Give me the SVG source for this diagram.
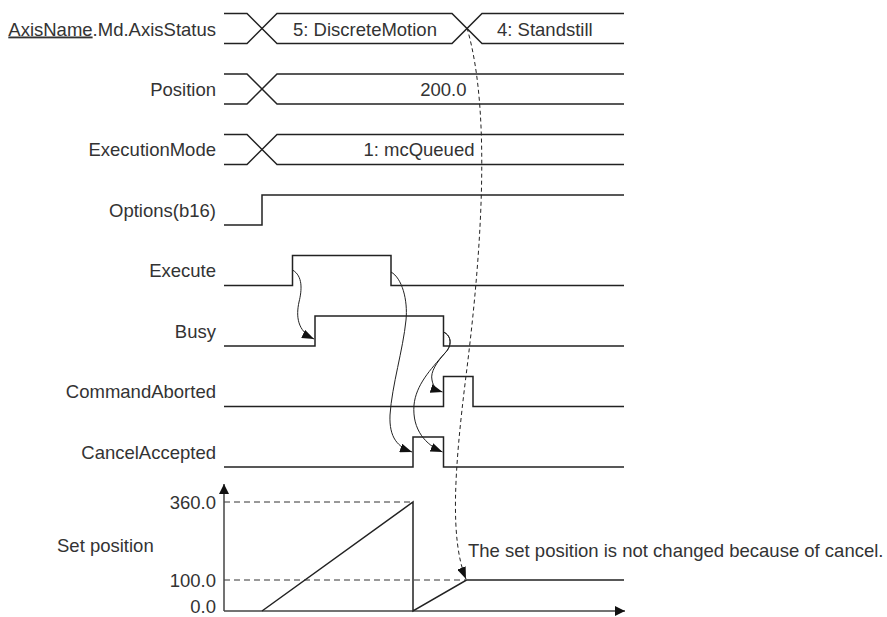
<svg xmlns="http://www.w3.org/2000/svg" width="887" height="617" viewBox="0 0 887 617">
<style>
text{font-family:"Liberation Sans",Arial,sans-serif;font-size:18.5px;fill:#333}
.lbl{text-anchor:end}
.w{fill:none;stroke:#222;stroke-width:1.5;stroke-linejoin:miter}
.c{fill:none;stroke:#222;stroke-width:1}
.d{fill:none;stroke:#222;stroke-width:1;stroke-dasharray:4 3}
.g{fill:none;stroke:#333;stroke-width:1;stroke-dasharray:6 4}
.ax{fill:none;stroke:#444;stroke-width:1.5}
</style>
<defs>
<marker id="ah" viewBox="0 0 12 9" refX="12" refY="4.5" markerWidth="12" markerHeight="9" markerUnits="userSpaceOnUse" orient="auto">
<path d="M0,0 L12,4.5 L0,9 z" fill="#111" stroke="none"/>
</marker>
<marker id="axh" viewBox="0 0 10 10" refX="10" refY="5" markerWidth="11" markerHeight="10" markerUnits="userSpaceOnUse" orient="auto">
<path d="M0,0 L10,5 L0,10 z" fill="#111" stroke="none"/>
</marker>
</defs>

<g id="axisStatus">
<text class="lbl" x="216" y="35.5"><tspan style="text-decoration:underline">AxisName</tspan>.Md.AxisStatus</text>
<path class="w" d="M224,13.5 H247 L277,43.5 H452 L482,13.5 H624"/>
<path class="w" d="M224,43.5 H247 L277,13.5 H452 L482,43.5 H624"/>
<text x="293" y="35.5">5: DiscreteMotion</text>
<text x="497" y="35.5">4: Standstill</text>
</g>

<g id="position">
<text class="lbl" x="216" y="95.5">Position</text>
<path class="w" d="M224,74 H247 L277,104 H624"/>
<path class="w" d="M224,104 H247 L277,74 H624"/>
<text x="466.5" y="95.5" text-anchor="end">200.0</text>
</g>

<g id="executionMode">
<text class="lbl" x="216" y="156">ExecutionMode</text>
<path class="w" d="M224,134.5 H247 L277,164.5 H624"/>
<path class="w" d="M224,164.5 H247 L277,134.5 H624"/>
<text x="474.5" y="156" text-anchor="end">1: mcQueued</text>
</g>

<g id="options">
<text class="lbl" x="216" y="217">Options(b16)</text>
<path class="w" d="M224,225 H262 V195 H624"/>
</g>

<g id="execute">
<text class="lbl" x="216" y="277">Execute</text>
<path class="w" d="M224,285.5 H292.5 V255.5 H391 V285.5 H624"/>
</g>

<g id="busy">
<text class="lbl" x="216" y="338">Busy</text>
<path class="w" d="M224,346 H315 V316 H443.5 V346 H624"/>
</g>

<g id="commandAborted">
<text class="lbl" x="216" y="398">CommandAborted</text>
<path class="w" d="M224,406.5 H443.5 V376.5 H473 V406.5 H624"/>
</g>

<g id="cancelAccepted">
<text class="lbl" x="216" y="459">CancelAccepted</text>
<path class="w" d="M224,467 H413 V437 H443.5 V467 H624"/>
</g>

<g id="setPosition">
<text x="57" y="552">Set position</text>
<text class="lbl" x="216" y="509">360.0</text>
<text class="lbl" x="216" y="587">100.0</text>
<text class="lbl" x="216" y="612.5">0.0</text>
<path class="g" d="M224,502 H413"/>
<path class="g" d="M224,580 H466"/>
<path class="ax" d="M224,611 V484" marker-end="url(#axh)"/>
<path class="ax" d="M224,611 H625" marker-end="url(#axh)"/>
<path class="w" d="M262,611 L413,502 V611 L466.5,580 H624"/>
<text x="468" y="557">The set position is not changed because of cancel.</text>
</g>

<g id="connectors">
<path class="c" d="M292.5,270 C303,276 302,290 299,302 C296,316 297,331 314,339" marker-end="url(#ah)"/>
<path class="c" d="M391,272 C402,278 408,300 406,320 C403,350 392,385 390,415 C389,438 398,447 412,452" marker-end="url(#ah)"/>
<path class="c" d="M443.5,332 C452,336 452,346 445,353 C437,362 430,372 432,380 C433,386 436,390 442.5,392" marker-end="url(#ah)"/>
<path class="c" d="M443.5,332 C452,336 452,346 445,353 C430,370 416,385 414,405 C412,430 426,445 442.5,452" marker-end="url(#ah)"/>
<path class="d" d="M467,28 C494,120 478,280 466,376 S450,540 466,579" marker-end="url(#ah)"/>
</g>
</svg>
